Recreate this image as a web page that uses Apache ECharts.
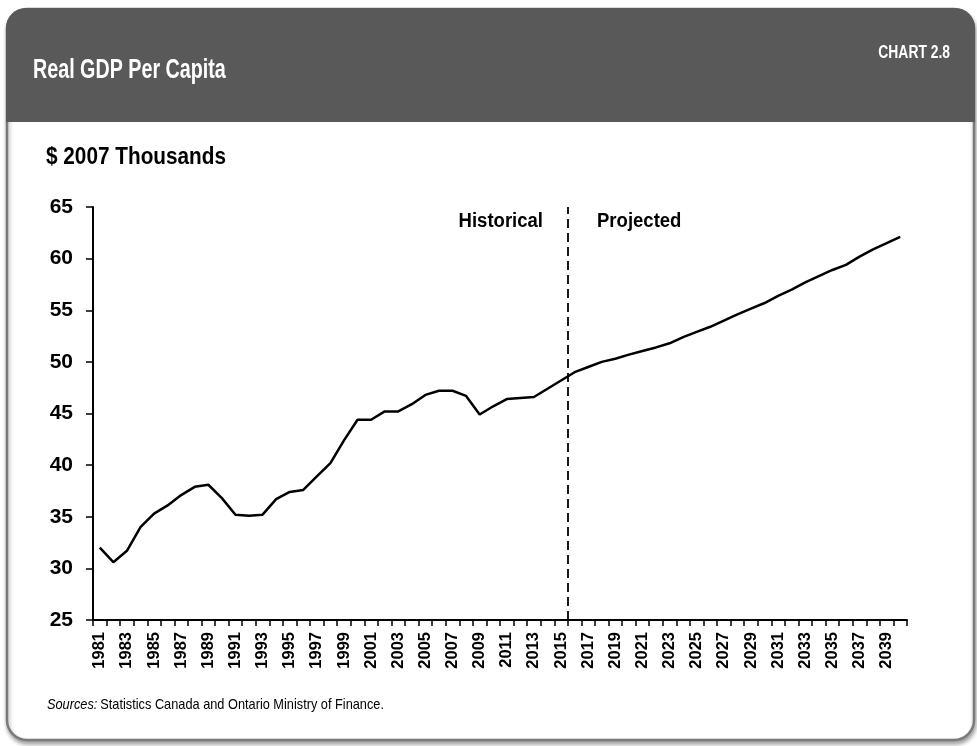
<!DOCTYPE html>
<html>
<head>
<meta charset="utf-8">
<script src="https://cdn.jsdelivr.net/npm/echarts@6/dist/echarts.min.js"></script>
<style>
html,body{margin:0;padding:0;background:#fff;}
#c{width:977px;height:746px;}
</style>
</head>
<body>
<div id="c"></div>
<script>
// ---- data ----
const categories = ['1981','1982','1983','1984','1985','1986','1987','1988','1989','1990',
  '1991','1992','1993','1994','1995','1996','1997','1998','1999','2000',
  '2001','2002','2003','2004','2005','2006','2007','2008','2009','2010',
  '2011','2012','2013','2014','2015','2016','2017','2018','2019','2020',
  '2021','2022','2023','2024','2025','2026','2027','2028','2029','2030',
  '2031','2032','2033','2034','2035','2036','2037','2038','2039','2040'];
const gdpPerCapita = [32.0,30.6,31.7,34.0,35.3,36.1,37.1,37.9,38.1,36.8,
  35.2,35.1,35.2,36.7,37.4,37.6,38.9,40.2,42.4,44.4,
  44.4,45.2,45.2,45.9,46.8,47.2,47.2,46.7,44.9,45.7,
  46.4,46.5,46.6,47.4,48.2,49.0,49.5,50.0,50.3,50.7,
  51.05,51.4,51.8,52.4,52.9,53.4,54.0,54.6,55.15,55.7,
  56.4,57.0,57.7,58.3,58.9,59.4,60.2,60.9,61.5,62.1];
const yMin = 25, yMax = 65, yStep = 5;
const projectionBoundary = 2015.5; // between last historical (2015) and first projected (2016)
const yearAxisRange = [1980.5, 2040.5];
const titleText = 'Real GDP Per Capita';
const chartNumber = 'CHART 2.8';
const unitText = '$ 2007 Thousands';
const histText = 'Historical';
const projText = 'Projected';

const SANS = '"Liberation Sans",Arial,sans-serif';

const chart = echarts.init(document.getElementById('c'), null, {renderer:'canvas'});
chart.setOption({
  animation:false,
  backgroundColor:'#fff',
  textStyle:{fontFamily:SANS},
  graphic:[
    {type:'rect', z:-10, shape:{x:7,y:9,width:967,height:731,r:20},
     style:{fill:'#fff',stroke:'#7a7a7a',lineWidth:2.5,shadowBlur:4,shadowOffsetX:1,shadowOffsetY:3,shadowColor:'rgba(0,0,0,0.35)'}},
    {type:'rect', z:-9, shape:{x:6,y:8,width:969,height:114,r:[20,20,0,0]},
     style:{fill:'#595959'}},
    {type:'text', x:33, y:71, scaleX:0.73,
     style:{text:titleText, fill:'#fff', font:'bold 27px '+SANS, textAlign:'left', textVerticalAlign:'middle'}},
    {type:'text', x:950, y:53, scaleX:0.73,
     style:{text:chartNumber, fill:'#fff', font:'bold 19px '+SANS, textAlign:'right', textVerticalAlign:'middle'}},
    {type:'text', x:46, y:157, scaleX:0.865,
     style:{text:unitText, fill:'#000', font:'bold 24px '+SANS, textAlign:'left', textVerticalAlign:'middle'}},
    {type:'text', x:47, y:705, scaleX:0.88,
     style:{text:'{i|Sources:} {n|Statistics Canada and Ontario Ministry of Finance.}',
      textAlign:'left', textVerticalAlign:'middle',
      rich:{i:{fontStyle:'italic',fontFamily:SANS,fontSize:14.5,fill:'#000'},
            n:{fontFamily:SANS,fontSize:14.5,fill:'#000'}}}},
    {type:'text', x:543, y:222, scaleX:0.95,
     style:{text:histText, fill:'#000', font:'bold 19.5px '+SANS, textAlign:'right', textVerticalAlign:'middle'}},
    {type:'text', x:597, y:222, scaleX:0.95,
     style:{text:projText, fill:'#000', font:'bold 19.5px '+SANS, textAlign:'left', textVerticalAlign:'middle'}}
  ],
  grid:{left:93, right:70, top:207, bottom:126, containLabel:false},
  xAxis:[{
    type:'category', data:categories, boundaryGap:true,
    axisLine:{show:true, lineStyle:{color:'#000', width:2}},
    axisTick:{show:true, interval:0, length:6, lineStyle:{color:'#000', width:1.5}},
    axisLabel:{interval:1, rotate:90, fontSize:16.5, fontWeight:'bold', color:'#000', margin:12, fontFamily:SANS},
    splitLine:{show:false}
  },{
    type:'value', min:yearAxisRange[0], max:yearAxisRange[1], show:false
  }],
  yAxis:{
    type:'value', min:yMin, max:yMax, interval:yStep,
    axisLine:{show:true, lineStyle:{color:'#000', width:2}},
    axisTick:{show:true, length:7, lineStyle:{color:'#000', width:1.5}},
    axisLabel:{fontSize:21, fontWeight:'bold', color:'#000', margin:20, fontFamily:SANS},
    splitLine:{show:false}
  },
  series:[{
    name:'Real GDP per capita', type:'line', data:gdpPerCapita, xAxisIndex:0,
    symbol:'none', lineStyle:{color:'#000', width:2.5}
  },{
    name:'boundary', type:'line', xAxisIndex:1, data:[], symbol:'none',
    markLine:{silent:true, symbol:'none', label:{show:false},
      lineStyle:{color:'#000', width:1.8, type:[9,5]},
      data:[{xAxis:projectionBoundary}]}
  }]
});
</script>
</body>
</html>
